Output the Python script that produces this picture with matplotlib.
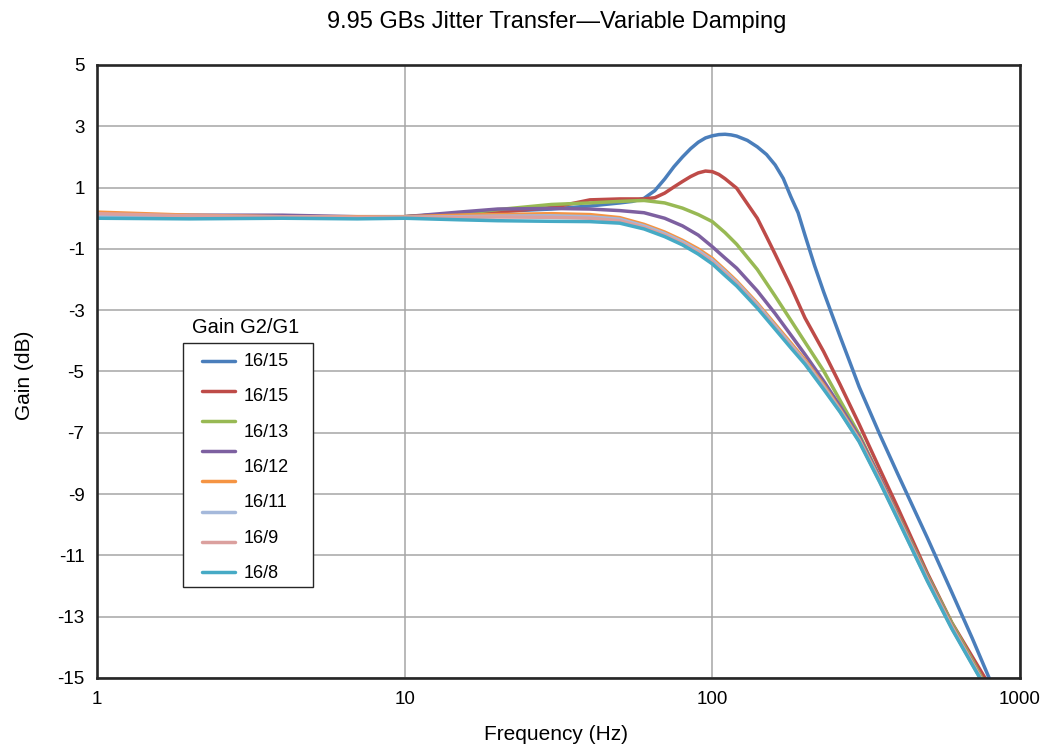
import matplotlib
matplotlib.use("Agg")
import matplotlib.pyplot as plt
import matplotlib.patches as mpatches

plt.rcParams['font.family'] = ['Liberation Sans', 'DejaVu Sans']

# frequency points (Hz) for the smoother curves
freq = [1, 2, 4, 7, 10, 15, 20, 30, 40, 50, 60, 70, 80, 90, 100, 110, 120,
        140, 160, 180, 200, 230, 260, 300, 350, 400, 500, 600, 700, 800]
# denser points for the two peaking curves
freq_a = [1, 2, 4, 7, 10, 15, 20, 30, 40, 50, 55, 60, 65, 70, 75, 80, 85, 90, 95, 100, 105, 110,
          115, 120, 130, 140, 150, 160, 170, 180, 190, 200, 215, 230, 245, 260, 280, 300, 350,
          400, 500, 600, 700, 800]
freq_b = [1, 2, 4, 7, 10, 15, 20, 30, 35, 40, 50, 60, 65, 70, 75, 80, 85, 90, 95, 100, 105, 110,
          120, 130, 140, 150, 160, 180, 200, 230, 260, 300, 350, 400, 500, 600, 700, 800]

# gain (dB)
g_16_15a = [0.05, 0.05, 0.07, 0.03, 0.05, 0.15, 0.22, 0.30, 0.40, 0.50, 0.55, 0.65, 0.90, 1.28, 1.68,
            2.00, 2.27, 2.48, 2.62, 2.69, 2.73, 2.74, 2.72, 2.68, 2.54, 2.33, 2.08, 1.74, 1.30, 0.70,
            0.18, -0.55, -1.55, -2.40, -3.15, -3.85, -4.70, -5.50, -7.05, -8.33, -10.43, -12.20,
            -13.71, -15.08]
g_16_15b = [0.10, 0.07, 0.05, 0.05, 0.05, 0.15, 0.20, 0.35, 0.48, 0.60, 0.63, 0.63, 0.67, 0.82, 1.02,
            1.20, 1.36, 1.48, 1.54, 1.52, 1.43, 1.29, 0.98, 0.47, 0.00, -0.60, -1.17, -2.23, -3.25,
            -4.35, -5.42, -6.72, -8.18, -9.43, -11.58, -13.19, -14.31, -15.28]
g_16_13 = [0.08, 0.05, 0.05, 0.05, 0.05, 0.15, 0.28, 0.45, 0.50, 0.55, 0.58, 0.50, 0.33, 0.12, -0.11,
           -0.47, -0.85, -1.67, -2.54, -3.33, -4.04, -4.98, -5.94, -7.05, -8.45, -9.65, -11.65, -13.20,
           -14.42, -15.50]
g_16_12 = [0.10, 0.10, 0.10, 0.05, 0.05, 0.20, 0.30, 0.32, 0.30, 0.25, 0.18, 0.00, -0.25, -0.55, -0.93,
           -1.30, -1.63, -2.37, -3.11, -3.81, -4.44, -5.31, -6.13, -7.12, -8.45, -9.68, -11.70, -13.27,
           -14.48, -15.55]
g_16_11 = [0.20, 0.10, 0.05, 0.05, 0.05, 0.10, 0.12, 0.15, 0.12, 0.02, -0.20, -0.45, -0.72, -1.00, -1.31,
           -1.69, -2.05, -2.77, -3.46, -4.07, -4.62, -5.44, -6.23, -7.20, -8.52, -9.72, -11.75, -13.30,
           -14.50, -15.55]
g_16_10 = [0.10, 0.05, 0.05, 0.02, 0.03, 0.05, 0.07, 0.08, 0.05, -0.03, -0.25, -0.50, -0.77, -1.06, -1.37,
           -1.74, -2.10, -2.82, -3.52, -4.13, -4.68, -5.50, -6.27, -7.24, -8.56, -9.76, -11.79, -13.34,
           -14.53, -15.56]
g_16_9 = [0.15, 0.08, 0.05, 0.03, 0.03, 0.03, 0.04, 0.03, 0.00, -0.08, -0.30, -0.55, -0.82, -1.11, -1.43,
          -1.80, -2.15, -2.87, -3.57, -4.18, -4.72, -5.54, -6.30, -7.27, -8.59, -9.79, -11.82, -13.37,
          -14.55, -15.57]
g_16_8 = [0.00, -0.02, 0.00, -0.02, 0.00, -0.05, -0.08, -0.10, -0.11, -0.16, -0.35, -0.60, -0.87, -1.17,
          -1.49, -1.87, -2.21, -2.93, -3.62, -4.23, -4.76, -5.58, -6.32, -7.29, -8.61, -9.81, -11.84,
          -13.39, -14.57, -15.58]

# the reference legend shows 8 line samples but only 7 text labels
legend_labels = ["16/15", "16/15", "16/13", "16/12", "16/11", "16/9", "16/8"]
series = [(freq_a, g_16_15a), (freq_b, g_16_15b), (freq, g_16_13), (freq, g_16_12),
          (freq, g_16_11), (freq, g_16_10), (freq, g_16_9), (freq, g_16_8)]
colors = ["#4A7EBB", "#BE4B48", "#98B954", "#7D60A0", "#F59443", "#A5B9DB", "#DBA09E", "#46AAC5"]

x_ticks = [1, 10, 100, 1000]
y_ticks = [5, 3, 1, -1, -3, -5, -7, -9, -11, -13, -15]

fig = plt.figure(figsize=(10.56, 7.44), dpi=100)
ax = fig.add_axes([97 / 1056, 1 - 678 / 744, 923 / 1056, 613 / 744])

handles = []
for (f, g), c in zip(series, colors):
    h, = ax.plot(f, g, color=c, lw=2.5, solid_capstyle="round", solid_joinstyle="round")
    handles.append(h)

ax.set_xscale("log")
ax.set_xlim(1, 1000)
ax.set_ylim(-15, 5)
ax.set_xticks(x_ticks)
ax.set_xticklabels([str(t) for t in x_ticks])
ax.xaxis.set_minor_locator(matplotlib.ticker.NullLocator())
ax.set_yticks(y_ticks)
ax.set_yticklabels([str(t) for t in y_ticks])
ax.tick_params(length=0, labelsize=13.5, pad=9)
ax.grid(True, color="#A6A6A6", lw=1.1)
ax.set_axisbelow(True)
for s in ax.spines.values():
    s.set_color("#262626")
    s.set_linewidth(1.9)

fig.text(557 / 1056, 1 - 22 / 744, "9.95 GBs Jitter Transfer\u2014Variable Damping",
         fontsize=17, ha="center", va="center")
fig.text(556 / 1056, 1 - 734 / 744, "Frequency (Hz)", fontsize=15, ha="center", va="center")
fig.text(25 / 1056, 1 - 375 / 744, "Gain (dB)", fontsize=15, ha="center", va="center",
         rotation=90)

# legend box drawn by hand so the padding matches
box = mpatches.Rectangle((86 / 923, 91 / 613), 130 / 923, 244 / 613, transform=ax.transAxes,
                         facecolor="white", edgecolor="#262626", lw=1.0, zorder=5)
ax.add_patch(box)
leg = ax.legend(handles, [" "] * len(handles), loc="upper left",
                bbox_to_anchor=(105 / 923, 324 / 613),
                fontsize=13, frameon=False, borderaxespad=0, borderpad=0,
                handlelength=1.83, handletextpad=0.5, labelspacing=0.73)
leg.set_zorder(6)
for i, lab in enumerate(legend_labels):
    ax.text(147 / 923, (316.3 - i * 35.3) / 613, lab, transform=ax.transAxes,
            ha="left", va="center", fontsize=13, zorder=7)
ax.text(149 / 923, 350 / 613, "Gain G2/G1", transform=ax.transAxes, ha="center", va="center",
        fontsize=14.5)

fig.savefig("out.png", dpi=100)
